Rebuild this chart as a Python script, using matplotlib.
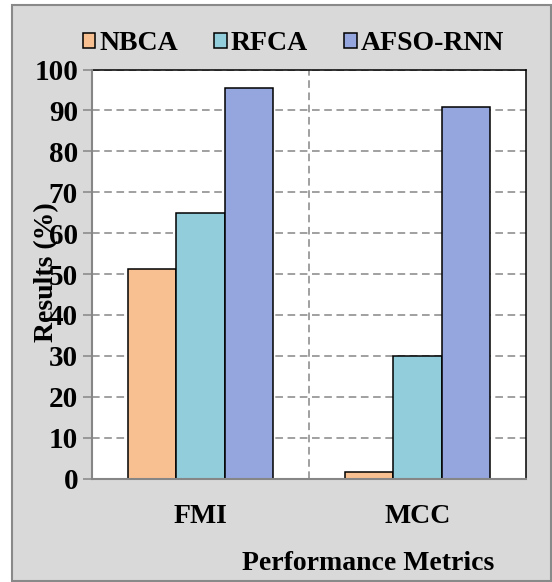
import matplotlib
matplotlib.use('Agg')
from matplotlib import pyplot as plt
from matplotlib.patches import Rectangle
import numpy as np

metrics = ['FMI', 'MCC']
methods = ['NBCA', 'RFCA', 'AFSO-RNN']
nbca = [51.3, 1.6]
rfca = [64.9, 29.9]
afso = [95.6, 90.8]
colors = ['#F8C090', '#92CDDC', '#95A6DE']
yticks = [0, 10, 20, 30, 40, 50, 60, 70, 80, 90, 100]

plt.rcParams['font.family'] = ['Liberation Serif', 'DejaVu Serif']
plt.rcParams['font.weight'] = 'bold'

W, H = 552, 582
fig = plt.figure(figsize=(W / 100, H / 100), dpi=100)
fig.patch.set_facecolor('white')

# gray chart area with border
fig.patches.append(Rectangle((12 / W, 1 - 581 / H), (551 - 12) / W, (581 - 5) / H,
                             transform=fig.transFigure, facecolor='#d9d9d9',
                             edgecolor='#898989', linewidth=1.5, zorder=-5))

ax = fig.add_axes([92 / W, 1 - 478.6 / H, (526 - 92) / W, (478.6 - 69.5) / H])
ax.set_facecolor('white')

x = np.arange(len(metrics))
w = 0.2225
series = [nbca, rfca, afso]
for i, vals in enumerate(series):
    ax.bar(x + (i - 1) * w, vals, w, color=colors[i], edgecolor='black',
           linewidth=1.1, label=methods[i], zorder=3)

ax.set_xlim(-0.5, 1.5)
ax.set_ylim(0, 100)
ax.set_yticks(yticks)
ax.set_xticks(x)
ax.set_xticklabels(metrics, fontsize=20, fontweight='bold')
ax.tick_params(axis='x', length=0, pad=18)
ax.tick_params(axis='y', length=6.5, width=1.1, color='#868686', pad=3.5,
               labelsize=21)
for t in ax.get_yticklabels():
    t.set_fontweight('bold')

# dashed gridlines
ax.yaxis.grid(True, color='#868686', linestyle=(0, (5, 3)), linewidth=1.1, zorder=1)
ax.axvline(0.5, color='#868686', linestyle=(0, (5, 3)), linewidth=1.1, zorder=1)

for s in ['top', 'right']:
    ax.spines[s].set_color('black')
    ax.spines[s].set_linewidth(1.1)
for s in ['left', 'bottom']:
    ax.spines[s].set_color('#868686')
    ax.spines[s].set_linewidth(1.5)
    ax.spines[s].set_zorder(4)

ax.set_ylabel('Results (%)', fontsize=20, fontweight='bold')
ax.yaxis.set_label_coords(-0.104, 0.505)
ax.yaxis.label.set_va('center')

ax.set_xlabel('Performance Metrics', fontsize=20, fontweight='bold')
ax.xaxis.set_label_coords(0.636, -0.208)
ax.xaxis.label.set_va('center')

leg = fig.legend(loc='center', bbox_to_anchor=(293.5 / W, 1 - 44 / H), ncol=3,
                 frameon=False, fontsize=20, handlelength=0.45, handleheight=0.45,
                 handletextpad=0.15, columnspacing=1.3, borderaxespad=0)
for t in leg.get_texts():
    t.set_fontweight('bold')

fig.savefig('out.png', dpi=100)
